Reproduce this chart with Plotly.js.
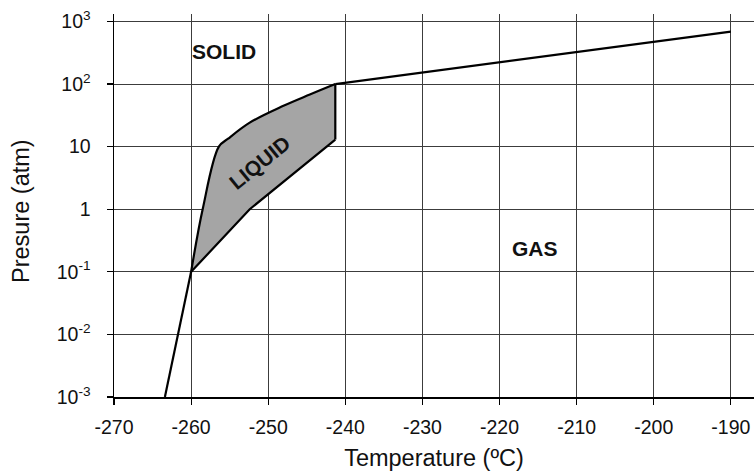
<!DOCTYPE html>
<html>
<head>
<meta charset="utf-8">
<script src="https://cdn.plot.ly/plotly-3.0.1.min.js"></script>
<style>
  html, body { margin: 0; padding: 0; background: #fff; }
  #chart { width: 754px; height: 473px; }
</style>
</head>
<body>
<div id="chart"></div>
<script>
// Phase diagram of hydrogen: temperature (ºC) against pressure (atm, log scale)

// Solid–gas boundary below the triple point
const sublimLowT = [-263.4, -260.0];
const sublimLowP = [0.001, 0.1];

// Solid–liquid boundary (left edge of the liquid region)
const meltT = [-260.0, -258.5, -256.4, -255.2, -252.4, -248.1, -244.6, -241.3];
const meltP = [0.1, 1, 10, 13.4, 24.2, 44.5, 68, 100];

// Right edge of the liquid region
const edgeT = [-241.3, -241.3];
const edgeP = [100, 13];

// Liquid–gas boundary (lower edge of the liquid region)
const vapT = [-241.3, -252.4, -260.0];
const vapP = [13, 1, 0.1];

// Solid–gas boundary above the liquid region
const sublimHighT = [-241.3, -190.0];
const sublimHighP = [100, 690];

// Axis ticks
const xTicks = [-270, -260, -250, -240, -230, -220, -210, -200, -190];
const yTicks = [0.001, 0.01, 0.1, 1, 10, 100, 1000];
const yTickText = ['10<sup>-3</sup>', '10<sup>-2</sup>', '10<sup>-1</sup>', '1', '10', '10<sup>2</sup>', '10<sup>3</sup>'];

// Region labels: [text, temperature, pressure, angle]
const regionLabels = [
  ['SOLID', -255.7, 336, 0],
  ['GAS', -215.4, 0.237, 0],
  ['LIQUID', -251.1, 5.6, -39]
];

const FONT = 'Liberation Sans, Arial, Helvetica, sans-serif';
const lineStyle = { color: '#000', width: 2.2 };
const curveStyle = { color: '#000', width: 2.2, shape: 'spline', smoothing: 1 };

const traces = [
  // upper edge of the liquid region (fill anchor)
  { x: meltT, y: meltP, mode: 'lines', line: { width: 0, shape: 'spline', smoothing: 1 },
    hoverinfo: 'skip' },
  // lower and right edges, filled up to the curve above
  { x: vapT.slice().reverse().concat(edgeT.slice().reverse()),
    y: vapP.slice().reverse().concat(edgeP.slice().reverse()),
    mode: 'lines', fill: 'tonext', fillcolor: '#a5a5a5',
    line: { width: 0 }, hoverinfo: 'skip' },
  { x: sublimLowT, y: sublimLowP, mode: 'lines', line: lineStyle },
  { x: meltT, y: meltP, mode: 'lines', line: curveStyle },
  { x: edgeT, y: edgeP, mode: 'lines', line: lineStyle },
  { x: vapT, y: vapP, mode: 'lines', line: lineStyle },
  { x: sublimHighT, y: sublimHighP, mode: 'lines', line: lineStyle }
];

const annotations = regionLabels.map(([text, t, p, ang]) => ({
  x: t, y: Math.log10(p), xref: 'x', yref: 'y',
  text: text, showarrow: false, textangle: ang,
  font: { family: FONT, size: 21, color: '#111', weight: 'bold' },
  xanchor: 'center', yanchor: 'middle'
}));

// Vertical axis title
annotations.push({
  xref: 'paper', yref: 'paper',
  x: (21 - 114) / 640, y: (397 - 211) / 383,
  text: 'Presure (atm)', showarrow: false, textangle: -90,
  font: { family: FONT, size: 23.5, color: '#111' },
  xanchor: 'center', yanchor: 'middle'
});

const layout = {
  width: 754, height: 473,
  margin: { l: 114, r: 0, t: 14, b: 76 },
  paper_bgcolor: '#fff', plot_bgcolor: '#fff',
  showlegend: false,
  font: { family: FONT, color: '#111' },
  xaxis: {
    range: [-270, -187],
    tickvals: xTicks,
    ticktext: xTicks.map(String),
    showgrid: true, gridcolor: '#3c3c3c', gridwidth: 1,
    zeroline: false,
    showline: true, linecolor: '#000', linewidth: 1.5,
    ticks: 'outside', ticklen: 6, tickcolor: '#000', tickwidth: 1.2,
    tickfont: { family: FONT, size: 19.5, color: '#111' },
    ticklabelstandoff: 6,
    title: { text: 'Temperature (ºC)', font: { family: FONT, size: 23.5, color: '#111' }, standoff: 12 }
  },
  yaxis: {
    type: 'log',
    range: [-3, 3.12],
    tickvals: yTicks,
    ticktext: yTickText,
    showgrid: true, gridcolor: '#3c3c3c', gridwidth: 1,
    zeroline: false,
    showline: true, linecolor: '#000', linewidth: 1.5,
    ticks: 'outside', ticklen: 6, tickcolor: '#000', tickwidth: 1.2,
    tickfont: { family: FONT, size: 19.5, color: '#111' },
    ticklabelstandoff: 12
  },
  annotations: annotations
};

Plotly.newPlot('chart', traces, layout, { displayModeBar: false, staticPlot: true });
</script>
</body>
</html>
